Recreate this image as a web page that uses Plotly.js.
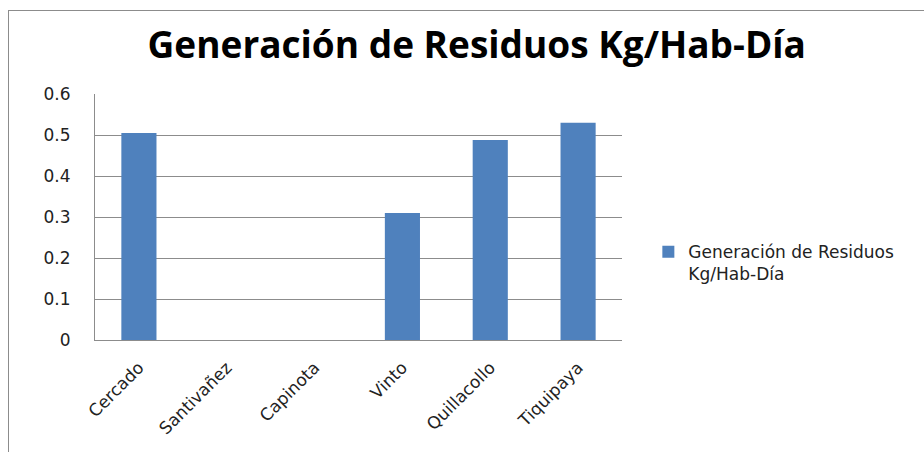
<!DOCTYPE html>
<html>
<head>
<meta charset="utf-8">
<script src="https://cdn.plot.ly/plotly-3.0.1.min.js"></script>
<style>
  html, body { margin:0; padding:0; background:#fff; overflow:hidden; }
  #frame { position:absolute; left:8px; top:10px; width:1000px; height:600px; border:1.5px solid #8c8c8c; box-sizing:border-box; }
  #chart { position:absolute; left:0; top:0; width:924px; height:452px; }
</style>
</head>
<body>
<div id="frame"></div>
<div id="chart"></div>
<script>
const categories = ["Cercado", "Santivañez", "Capinota", "Vinto", "Quillacollo", "Tiquipaya"];
const values = [0.505, 0, 0, 0.31, 0.488, 0.53];
const seriesName = "Generación de Residuos<br>Kg/Hab-Día";
const chartTitle = "Generación de Residuos Kg/Hab-Día";
const yTicks = [0, 0.1, 0.2, 0.3, 0.4, 0.5, 0.6];
const yTickText = ["0", "0.1", "0.2", "0.3", "0.4", "0.5", "0.6"];

const trace = {
  type: "bar",
  x: categories,
  y: values,
  name: seriesName,
  showlegend: true,
  marker: { color: "#4F81BD", line: { width: 0 } },
  hoverinfo: "x+y"
};

const layout = {
  width: 924, height: 452,
  margin: { l: 95, r: 302, t: 94, b: 112 },
  paper_bgcolor: "rgba(0,0,0,0)",
  plot_bgcolor: "#fff",
  bargap: 0.6,
  title: {
    text: "<b>" + chartTitle + "</b>",
    font: { family: "Open Sans", size: 37, color: "#000" },
    x: 0.516, xanchor: "center", xref: "container",
    y: 0.9, yanchor: "middle", yref: "container"
  },
  showlegend: true,
  legend: {
    x: 1.05, xanchor: "left", y: 0.43, yanchor: "top",
    valign: "top",
    font: { family: "DejaVu Sans", size: 17, color: "#222" },
    bgcolor: "rgba(0,0,0,0)"
  },
  xaxis: {
    type: "category",
    tickangle: -45,
    tickfont: { family: "DejaVu Sans", size: 17, color: "#222" },
    showline: true, linecolor: "#8c8c8c", linewidth: 1,
    ticks: "outside", ticklen: 10, tickcolor: "rgba(0,0,0,0)",
    showgrid: false, zeroline: false
  },
  yaxis: {
    range: [0, 0.6],
    tickvals: yTicks, ticktext: yTickText,
    tickfont: { family: "DejaVu Sans", size: 17, color: "#222" },
    showline: true, linecolor: "#8c8c8c", linewidth: 1,
    gridcolor: "#8c8c8c", gridwidth: 1,
    ticks: "outside", ticklen: 20, tickcolor: "rgba(0,0,0,0)",
    zeroline: false
  }
};

Plotly.newPlot("chart", [trace], layout, { displayModeBar: false, staticPlot: true });
</script>
</body>
</html>
